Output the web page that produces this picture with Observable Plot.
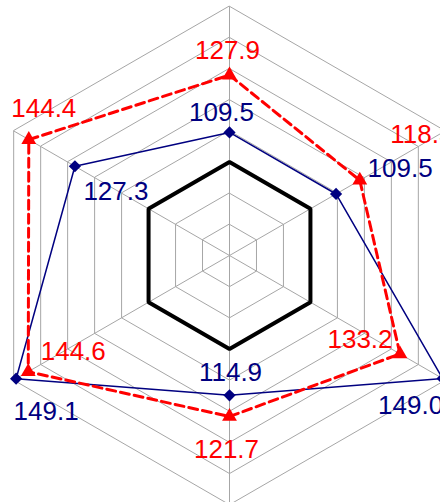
<!DOCTYPE html>
<html>
<head>
<meta charset="utf-8">
<script src="https://cdn.jsdelivr.net/npm/d3@7"></script>
<script src="https://cdn.jsdelivr.net/npm/@observablehq/plot@0.6"></script>
<style>
  html, body { margin: 0; padding: 0; background: #fff; overflow: hidden; }
  #chart svg { display: block; }
</style>
</head>
<body>
<div id="chart"></div>
<script>
// ---- data ----
const categories = ["1", "2", "3", "4", "5", "6"];
const seriesRed  = [127.9, 118.3, 133.2, 121.7, 144.6, 144.4];
const seriesBlue = [109.5, 109.5, 149.0, 114.9, 149.1, 127.3];
const reference  = [100, 100, 100, 100, 100, 100];
const ringValues = [80, 90, 100, 110, 120, 130, 140, 150];
const radialMin = 70;

// ---- label offsets (layout, px) ----
const redLabelOffsets  = [[-2, -24], [62, -46], [-40, -14], [-3, 33], [45, -20], [15, -31]];
const blueLabelOffsets = [[-8, -20], [64, -25], [-32, 27], [1, -23], [30, 33], [41, 25]];

// ---- frame: center at (229,255), 3.115 px per unit ----
const W = 440, H = 502, cx = 229, cy = 255, k = 3.115;

// ---- geometry helpers ----
const n = categories.length;
const angle = i => (i * 2 * Math.PI) / n; // clockwise from top
const pt = (v, i) => {
  const r = v - radialMin;
  return { x: r * Math.sin(angle(i)), y: r * Math.cos(angle(i)) };
};
const toPoints = (vals, name, offs) => vals.map((v, i) => {
  const p = pt(v, i);
  return { ...p, lx: p.x + offs[i][0] / k, ly: p.y - offs[i][1] / k, value: v, i, series: name };
});

const outer = ringValues[ringValues.length - 1];
const ringPts = ringValues.flatMap(rv => categories.map((c, i) => ({ ...pt(rv, i), ring: rv })));
const spokes = categories.map((c, i) => ({ x1: 0, y1: 0, x2: pt(outer, i).x, y2: pt(outer, i).y }));
const redPts = toPoints(seriesRed, "red", redLabelOffsets);
const bluePts = toPoints(seriesBlue, "blue", blueLabelOffsets);
const refPts = reference.map((v, i) => pt(v, i));

const fmt = d3.format(".1f");
const font = "'Liberation Sans Narrow', 'Arial Narrow', 'Liberation Sans', sans-serif";

const chart = Plot.plot({
  width: W,
  height: H,
  margin: 0,
  x: { domain: [-cx / k, (W - cx) / k], axis: null },
  y: { domain: [-(H - cy) / k, cy / k], axis: null },
  style: { background: "white", fontFamily: font },
  marks: [
    Plot.line(ringPts, { x: "x", y: "y", z: "ring", curve: "linear-closed", stroke: "#a6a6a6", strokeWidth: 1 }),
    Plot.link(spokes, { x1: "x1", y1: "y1", x2: "x2", y2: "y2", stroke: "#a6a6a6", strokeWidth: 1 }),
    Plot.line(refPts, { x: "x", y: "y", curve: "linear-closed", stroke: "#000", strokeWidth: 4, strokeLinejoin: "miter" }),
    Plot.line(bluePts, { x: "x", y: "y", curve: "linear-closed", stroke: "#000080", strokeWidth: 1.5 }),
    Plot.line(redPts, { x: "x", y: "y", curve: "linear-closed", stroke: "#ff0000", strokeWidth: 3, strokeDasharray: "9,5" }),
    Plot.dot(bluePts, { x: "x", y: "y", symbol: "diamond2", r: 5.5, fill: "#000080", stroke: "none" }),
    Plot.dot(redPts, { x: "x", y: "y", symbol: "triangle", r: 5.5, fill: "#ff0000", stroke: "none" }),
    Plot.text(redPts, { x: "lx", y: "ly", text: d => fmt(d.value), fill: "#ff0000", fontSize: 26 }),
    Plot.text(bluePts, { x: "lx", y: "ly", text: d => fmt(d.value), fill: "#000080", fontSize: 26 })
  ]
});
document.getElementById("chart").appendChild(chart);
</script>
</body>
</html>
